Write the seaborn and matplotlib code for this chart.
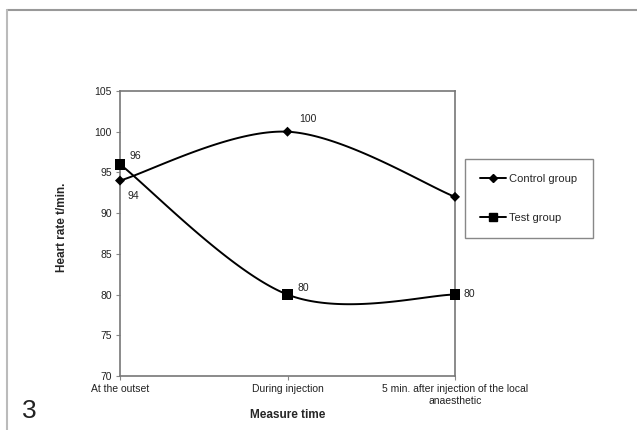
import numpy as np
import pandas as pd
import matplotlib
matplotlib.use("Agg")
import matplotlib.pyplot as plt
from matplotlib.lines import Line2D
import seaborn as sns

# Data
categories = ["At the outset", "During injection", "5 min. after injection of the local\nanaesthetic"]
control_group = [94, 100, 92]
test_group = [96, 80, 80]
series_names = ["Control group", "Test group"]
y_ticks = [70, 75, 80, 85, 90, 95, 100, 105]

sns.set_theme(style="white")
plt.rcParams["font.family"] = ["Liberation Sans", "DejaVu Sans"]

W, H = 637, 430
fig = plt.figure(figsize=(W / 100, H / 100), dpi=100)
ax = fig.add_axes([120 / W, 1 - 376 / H, (455 - 120) / W, (376 - 91) / H])


def smooth_curve(xs, ys, n=60):
    """Catmull-Rom style Bezier smoothing through the given points."""
    P = np.column_stack([xs, ys]).astype(float)
    m = len(P)
    T = np.zeros_like(P)
    for i in range(m):
        a = P[max(i - 1, 0)]
        b = P[min(i + 1, m - 1)]
        T[i] = (b - a) / 2.0
    out = []
    t = np.linspace(0, 1, n)[:, None]
    for i in range(m - 1):
        p0, p3 = P[i], P[i + 1]
        p1 = p0 + T[i] / 3.0
        p2 = p3 - T[i + 1] / 3.0
        seg = ((1 - t) ** 3) * p0 + 3 * ((1 - t) ** 2) * t * p1 + 3 * (1 - t) * t ** 2 * p2 + t ** 3 * p3
        out.append(seg if i == 0 else seg[1:])
    return np.vstack(out)


x_pos = np.arange(len(categories))
frames = []
for name, vals in zip(series_names, [control_group, test_group]):
    c = smooth_curve(x_pos, vals)
    frames.append(pd.DataFrame({"x": c[:, 0], "y": c[:, 1], "series": name}))
curves = pd.concat(frames, ignore_index=True)

sns.lineplot(data=curves, x="x", y="y", units="series", estimator=None, sort=False,
             color="black", linewidth=1.4, ax=ax, legend=False)

points = pd.DataFrame({
    "x": np.concatenate([x_pos, x_pos]),
    "y": control_group + test_group,
    "series": [series_names[0]] * 3 + [series_names[1]] * 3,
})
sns.scatterplot(data=points, x="x", y="y", style="series",
                markers={"Control group": "D", "Test group": "s"},
                size="series", sizes={"Control group": 26, "Test group": 62},
                color="black", edgecolor="black", linewidth=0, ax=ax, legend=False,
                zorder=5, clip_on=False)

# Value labels
ctrl_offsets = [(7, -20), (12, 8), (11, -4)]
test_offsets = [(10, 3), (10, 2), (9, -4)]
for xi, v, off in zip(x_pos, control_group, ctrl_offsets):
    ax.annotate(str(v), (xi, v), xytext=off, textcoords="offset pixels",
                fontsize=7.5, color="#222222", ha="left", va="bottom")
for xi, v, off in zip(x_pos, test_group, test_offsets):
    ax.annotate(str(v), (xi, v), xytext=off, textcoords="offset pixels",
                fontsize=7.5, color="#222222", ha="left", va="bottom")

ax.set_xlim(0, 2)
ax.set_ylim(70, 105)
ax.set_yticks(y_ticks)
ax.set_yticklabels([str(t) for t in y_ticks], fontsize=7.5, color="#222222")
ax.set_xticks(x_pos)
ax.set_xticklabels(categories, fontsize=7.5, color="#222222", linespacing=1.25)
ax.tick_params(axis="both", direction="out", length=3, width=0.8, color="#888888",
               left=True, bottom=True, pad=3)
for sp in ax.spines.values():
    sp.set_visible(True)
    sp.set_color("#777777")
    sp.set_linewidth(1.2)

ax.set_xlabel("Measure time", fontsize=8.5, fontweight="bold", labelpad=2)
ax.set_ylabel("Heart rate t/min.", fontsize=8.5, fontweight="bold")
ax.yaxis.set_label_coords(-0.155, 0.52)

handles = [
    Line2D([], [], color="black", marker="D", markersize=4, linewidth=1.4),
    Line2D([], [], color="black", marker="s", markersize=6, linewidth=1.4),
]
leg = fig.legend(handles, series_names, loc="upper left",
                 bbox_to_anchor=(465 / W, 1 - 159 / H), bbox_transform=fig.transFigure,
                 fontsize=8, frameon=True, fancybox=False, framealpha=1.0, borderpad=1.35,
                 labelspacing=2.6, handlelength=2.3, handletextpad=0.35,
                 borderaxespad=0)
leg.get_frame().set_edgecolor("#888888")
leg.get_frame().set_linewidth(1.0)
leg.get_frame().set_facecolor("white")
leg.set_zorder(10)

# Panel number and page frame
fig.text(22 / W, 1 - 418 / H, "3", fontsize=19, color="#222222", ha="left", va="baseline")
fig.add_artist(Line2D([7 / W, 1], [1 - 10 / H, 1 - 10 / H], color="#999999", linewidth=1.5,
                      transform=fig.transFigure))
fig.add_artist(Line2D([7 / W, 7 / W], [1 - 10 / H, 0], color="#bbbbbb", linewidth=1.5,
                      transform=fig.transFigure))

fig.savefig("out.png", dpi=100)
